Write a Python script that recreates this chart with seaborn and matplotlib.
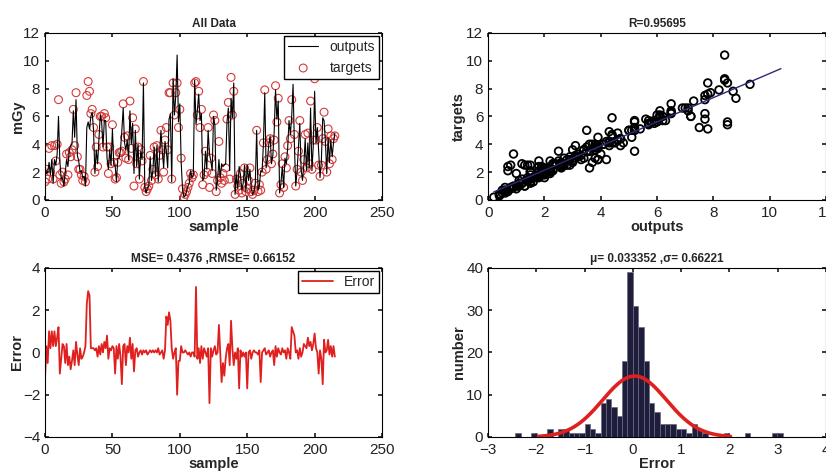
import numpy as np
import pandas as pd
import matplotlib
matplotlib.use("Agg")
import matplotlib.pyplot as plt
import seaborn as sns

targets = [
    1.3, 2.2, 1.5, 3.7, 2.0, 3.9, 1.5, 3.9, 2.8, 4.0,
    7.2, 1.8, 1.2, 2.0, 1.3, 1.5, 3.3, 1.8, 3.4, 3.1,
    3.6, 6.5, 3.9, 7.7, 3.1, 2.2, 2.2, 1.8, 1.4, 1.7,
    1.3, 7.5, 8.5, 7.8, 6.2, 6.5, 5.2, 2.0, 3.8, 2.4,
    4.7, 6.0, 6.0, 3.8, 6.2, 5.9, 3.8, 1.9, 3.8, 2.6,
    5.4, 2.7, 1.5, 1.6, 2.7, 3.4, 3.4, 3.5, 6.9, 4.5,
    3.0, 4.6, 2.9, 7.1, 3.7, 5.9, 1.0, 5.1, 2.6, 3.8,
    1.5, 3.6, 2.8, 8.5, 0.9, 0.6, 0.8, 1.0, 3.2, 1.4,
    2.2, 3.8, 1.8, 3.9, 1.5, 3.2, 5.0, 3.6, 2.0, 4.3,
    5.2, 3.6, 7.7, 7.7, 1.5, 8.4, 6.1, 7.7, 8.4, 5.2,
    6.5, 3.0, 0.8, 0.2, 0.4, 0.6, 0.9, 1.2, 1.9, 1.6,
    1.8, 8.4, 8.5, 6.1, 7.8, 5.2, 6.5, 1.1, 1.8, 3.5,
    2.0, 5.2, 0.9, 3.0, 1.9, 6.1, 5.7, 0.6, 1.4, 4.2,
    1.6, 1.2, 1.9, 1.4, 2.3, 5.8, 7.0, 1.5, 8.8, 6.1,
    7.8, 0.4, 1.5, 1.0, 0.7, 1.9, 0.5, 1.2, 2.3, 0.6,
    0.8, 1.4, 2.3, 0.6, 0.4, 0.7, 1.2, 5.0, 0.6, 1.1,
    0.7, 2.0, 4.1, 7.9, 2.2, 2.9, 4.1, 4.4, 2.6, 3.3,
    4.3, 8.2, 5.6, 7.3, 0.5, 1.1, 2.6, 0.9, 3.1, 2.3,
    3.9, 5.7, 4.4, 7.2, 9.3, 4.7, 1.0, 2.2, 3.5, 5.7,
    2.0, 1.4, 2.9, 4.7, 2.3, 4.8, 2.6, 7.1, 2.2, 4.3,
    8.7, 4.3, 5.2, 2.5, 1.7, 2.5, 4.4, 6.3, 4.2, 2.0,
    5.1, 2.6, 4.6, 2.9, 4.4, 4.6,
]

# error (targets - outputs)
errors = [
    -1.2, 0.3, -0.5, 1.0, 0.2, 1.0, 0.3, 1.0, 0.3, 0.7,
    1.2, -1.0, -0.3, 0.4, 0.3, -0.5, 0.4, -0.6, -0.2, -0.8,
    -0.4, 0.1, -0.6, 0.5, -0.1, -0.6, 0.2, -0.3, -0.2, 0.0,
    0.3, 2.3, 2.9, 2.7, 0.2, 0.2, 0.2, 0.1, 0.2, -0.2,
    0.3, -0.1, 0.4, 0.0, 0.5, 0.2, 0.8, -0.3, 0.2, 0.1,
    0.3, 0.2, -1.0, 0.3, -0.3, 0.4, -0.2, -1.5, 0.3, 0.4,
    -0.6, 0.3, 0.0, 0.7, -0.3, 0.4, -0.9, 0.1, 0.2, -0.2,
    0.0, 0.1, -0.1, 0.1, 0.0, 0.1, -0.1, 0.0, 0.1, 0.0,
    0.1, 0.0, 0.1, 0.0, 0.2, -0.1, 0.0, 0.1, -0.3, 0.1,
    1.7, 1.3, 1.9, 1.5, 0.2, -0.3, 0.0, 0.2, -2.0, -0.4,
    -0.4, 0.3, 0.0, 0.0, 0.1, 0.0, -0.1, 0.0, -0.2, 0.0,
    0.0, -0.2, 3.1, -0.3, 0.2, -0.5, 0.3, -0.3, 0.2, 0.0,
    -0.2, 0.2, -2.4, 0.2, -0.2, 0.1, 0.3, -0.1, 0.0, 1.3,
    0.0, -1.4, -0.5, -1.1, -0.3, 0.2, 0.4, -0.6, 1.5, 0.2,
    -0.6, 0.0, -0.3, 0.2, -1.7, 0.1, -0.2, 0.0, -0.2, 0.0,
    -1.7, 0.0, 0.1, -0.3, 0.0, 0.1, 0.0, 0.0, -0.1, 0.1,
    -1.4, 0.0, 0.1, 0.2, -0.1, 0.0, 0.1, -0.2, 0.0, 0.1,
    -0.6, 0.3, -0.2, 0.2, 0.0, -0.1, 0.2, 0.0, 0.1, -0.3,
    0.2, 0.0, -0.3, 1.2, 1.0, 0.8, 0.0, 0.1, -0.3, 0.2,
    -0.2, 0.0, 0.4, 0.3, 0.2, 0.7, 0.3, 0.5, 0.1, 0.4,
    0.9, 0.2, 0.0, -1.0, 0.1, -0.3, -1.5, 0.6, 0.0, 0.1,
    0.6, -0.1, 0.3, -0.2, 0.3, -0.2,
]

# error histogram, 50 bins between the smallest and largest error
hist_lo, hist_hi = -2.44, 3.10
hist_counts = [
    1, 0, 0, 1, 0, 0, 2, 0, 2, 2,
    1, 1, 1, 3, 2, 1, 8, 9, 7, 5,
    18, 39, 31, 26, 18, 8, 6, 3, 3, 3,
    2, 2, 1, 3, 2, 1, 0, 0, 0, 1,
    0, 0, 0, 1, 0, 0, 0, 0, 1, 1,
]
mu, sigma = 0.033352, 0.66221

targets = np.array(targets)
errors = np.array(errors)
outputs = targets - errors
sample = np.arange(len(targets))

sns.set_theme(style="ticks")
plt.rcParams["font.family"] = ["Liberation Sans", "DejaVu Sans"]
plt.rcParams.update({
    "xtick.direction": "in", "ytick.direction": "in",
    "xtick.top": True, "ytick.right": True,
    "xtick.major.size": 3, "ytick.major.size": 3,
    "xtick.major.pad": 4.5,
    "xtick.labelsize": 11, "ytick.labelsize": 11,
    "xtick.color": "#222222", "ytick.color": "#222222",
    "axes.edgecolor": "black", "axes.linewidth": 0.8,
})

fig = plt.figure(figsize=(8.26, 4.75), dpi=100)
ax1 = fig.add_axes([0.0545, 0.579, 0.408, 0.352])
ax2 = fig.add_axes([0.591, 0.579, 0.409, 0.352])
ax3 = fig.add_axes([0.0545, 0.08, 0.408, 0.356])
ax4 = fig.add_axes([0.591, 0.08, 0.409, 0.356])

lab = dict(fontsize=10.5, fontweight="bold")
ttl = dict(fontsize=8.5, fontweight="bold")

# --- all data
sns.lineplot(x=sample, y=outputs, ax=ax1, color="black", lw=0.8, label="outputs")
sns.scatterplot(x=sample, y=targets, ax=ax1, marker="o", s=32,
                facecolors="none", edgecolor="#d43a3a", linewidth=0.8, label="targets")
ax1.set_xlim(0, 250)
ax1.set_ylim(0, 12)
ax1.set_xticks(range(0, 251, 50))
ax1.set_yticks(range(0, 13, 2))
ax1.set_title("All Data", pad=4, **ttl)
ax1.set_xlabel("sample", labelpad=0, **lab)
ax1.set_ylabel("mGy", labelpad=-1, **lab)
ax1.legend(loc="upper right", fancybox=False, edgecolor="black", framealpha=1,
           fontsize=10, borderpad=0.3, handlelength=2.2, borderaxespad=0.2)

# --- regression
fit = np.polyfit(targets, outputs, 1)
fx = np.array([min(targets.min(), outputs.min()), max(targets.max(), outputs.max())])
sns.scatterplot(x=targets, y=outputs, ax=ax2, marker="o", s=30,
                facecolors="none", edgecolor="black", linewidth=1.3)
sns.lineplot(x=fx, y=np.polyval(fit, fx), ax=ax2, color="#2a2a78", lw=1.0)
ax2.set_xlim(0, 12)
ax2.set_ylim(0, 12)
ax2.set_xticks(range(0, 13, 2))
ax2.set_yticks(range(0, 13, 2))
ax2.set_title("R=0.95695", pad=4, **ttl)
ax2.set_xlabel("outputs", labelpad=0, **lab)
ax2.set_ylabel("targets", labelpad=0, **lab)

# --- error trace
sns.lineplot(x=sample, y=errors, ax=ax3, color="#e0201e", lw=1.3, label="Error")
ax3.set_xlim(0, 250)
ax3.set_ylim(-4, 4)
ax3.set_xticks(range(0, 251, 50))
ax3.set_yticks(range(-4, 5, 2))
ax3.set_title("MSE= 0.4376 ,RMSE= 0.66152", pad=4, **ttl)
ax3.set_xlabel("sample", labelpad=0, **lab)
ax3.set_ylabel("Error", labelpad=-1, **lab)
ax3.legend(loc="upper right", fancybox=False, edgecolor="black", framealpha=1,
           fontsize=10, borderpad=0.3, handlelength=2.2, borderaxespad=0.2)

# --- histogram with normal fit
bw = (hist_hi - hist_lo) / len(hist_counts)
hist_df = pd.DataFrame({
    "center": hist_lo + bw * (np.arange(len(hist_counts)) + 0.5),
    "count": hist_counts,
})
sns.histplot(data=hist_df, x="center", weights="count", bins=len(hist_counts),
             binrange=(hist_lo, hist_hi), ax=ax4,
             color="#1e1e3c", edgecolor="#6a6a80", linewidth=0.5, alpha=1)
gx = np.linspace(mu - 3 * sigma, mu + 3 * sigma, 200)
gy = len(targets) * bw * np.exp(-0.5 * ((gx - mu) / sigma) ** 2) / (sigma * np.sqrt(2 * np.pi))
sns.lineplot(x=gx, y=gy, ax=ax4, color="#e0201e", lw=2.6)
ax4.set_xlim(-3, 4)
ax4.set_ylim(0, 40)
ax4.set_xticks(range(-3, 5))
ax4.set_yticks(range(0, 41, 10))
ax4.set_title("\u03bc= 0.033352 ,\u03c3= 0.66221", pad=4, **ttl)
ax4.set_xlabel("Error", labelpad=0, **lab)
ax4.set_ylabel("number", labelpad=0, **lab)

for ax in (ax1, ax2, ax3, ax4):
    for s in ax.spines.values():
        s.set_visible(True)

fig.savefig("out.png", dpi=100)
